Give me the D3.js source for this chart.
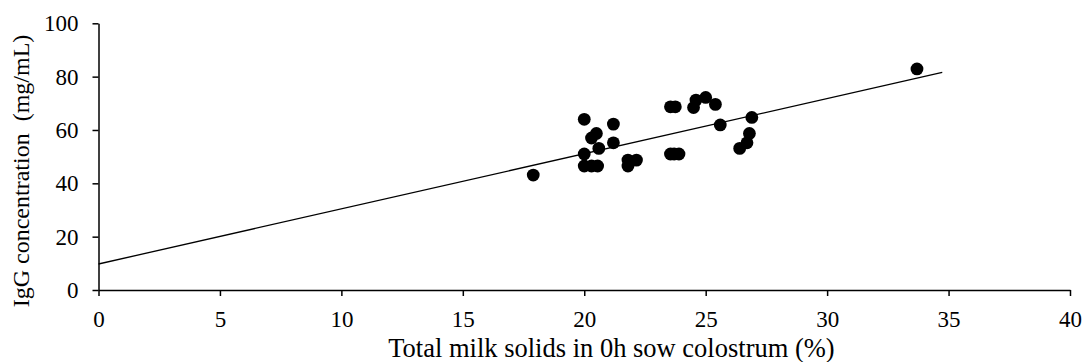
<!DOCTYPE html>
<html><head><meta charset="utf-8">
<script src="https://cdn.jsdelivr.net/npm/d3@7"></script>
<style>body{margin:0;background:#fff}svg{display:block}</style>
</head><body>
<script>
const solids = [17.9,20.0,20.0,20.0,20.3,20.55,20.3,20.5,20.6,21.2,21.2,21.8,21.8,22.15,23.55,23.55,23.75,23.7,23.9,24.6,24.5,25.0,25.4,25.6,26.9,26.8,26.7,26.4,33.7];
const igg    = [43.1,64.0,51.0,46.5,46.5,46.5,57.0,58.7,53.1,62.2,55.2,48.7,46.5,48.7,68.7,51.0,68.7,51.0,51.0,71.2,68.4,72.2,69.6,61.9,64.7,58.7,55.2,53.1,82.9];
const trendX = [0, 34.74];
const trendIntercept = 9.75, trendSlope = 2.068;
const xTicks = [0,5,10,15,20,25,30,35,40];
const yTicks = [0,20,40,60,80,100];

const W=1083,H=362;
const svg=d3.select("body").append("svg").attr("width",W).attr("height",H);
const x=d3.scaleLinear().domain([0,40]).range([98.5,1070]);
const y=d3.scaleLinear().domain([0,100]).range([290,23.3]);
const font="'Liberation Serif','Times New Roman',serif";

const xa=svg.append("g").attr("transform","translate(0,290)")
  .call(d3.axisBottom(x).tickValues(xTicks).tickSize(6).tickPadding(15).tickSizeOuter(0));
const ya=svg.append("g").attr("transform","translate(98.5,0)")
  .call(d3.axisLeft(y).tickValues(yTicks).tickSize(6).tickPadding(14).tickSizeOuter(0));
[xa,ya].forEach(a=>{
  a.selectAll("path,line").attr("stroke","#000").attr("stroke-width",1.5);
  a.selectAll("text").attr("font-family",font).attr("font-size",23).attr("fill","#000");
});

svg.append("line")
  .attr("x1",x(trendX[0])).attr("y1",y(trendIntercept+trendSlope*trendX[0]))
  .attr("x2",x(trendX[1])).attr("y2",y(trendIntercept+trendSlope*trendX[1]))
  .attr("stroke","#000").attr("stroke-width",1.3);

svg.append("g").selectAll("circle").data(solids.map((d,i)=>[d,igg[i]])).join("circle")
  .attr("cx",d=>x(d[0])).attr("cy",d=>y(d[1])).attr("r",6.4).attr("fill","#000");

svg.append("text").attr("x",611.5).attr("y",357).attr("text-anchor","middle")
  .attr("font-family",font).attr("font-size",26.5).text("Total milk solids in 0h sow colostrum (%)");
svg.append("text").attr("transform","translate(29,171) rotate(-90)").attr("text-anchor","middle")
  .attr("font-family",font).attr("font-size",24).style("white-space","pre")
  .text("IgG concentration  (mg/mL)");
</script>
</body></html>
